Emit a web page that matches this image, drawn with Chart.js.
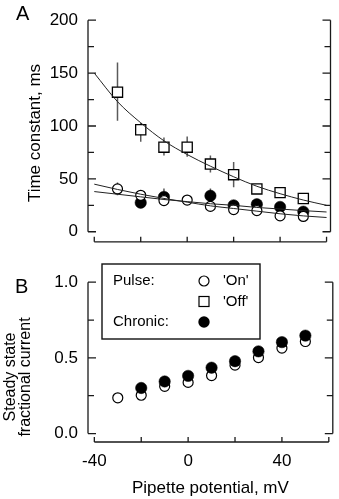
<!DOCTYPE html>
<html lang="en">
<head>
<meta charset="UTF-8">
<title>Time constants and steady state current</title>
<style>
  body { margin: 0; background: #fff; }
  #wrap { position: relative; width: 339px; height: 499px; background: #fff; }
  canvas { position: absolute; left: 0; }
  #tauChart { top: 0; }
  #fracChart { top: 262px; }
</style>
<script src="https://cdn.jsdelivr.net/npm/chart.js@4"></script>
</head>
<body>
<div id="wrap">
  <canvas id="tauChart" width="339" height="262"></canvas>
  <canvas id="fracChart" width="339" height="237"></canvas>
</div>
<script>
// pipette potentials, mV
const potentials = [-30, -20, -10, 0, 10, 20, 30, 40, 50];
const chronicPotentialsA = [-20, -10, 10, 20, 30, 40, 50];
const chronicPotentialsB = [-20, -10, 0, 10, 20, 30, 40, 50];

// panel A: time constants, ms
const onTau = [40.5, 34.5, 29.5, 30, 24, 21, 20, 15, 14.5];
const onTauErr = [6, 3, 3, 3, 3, 3, 3.5, 4, 4];
const offTau = [132, 96.5, 80, 80, 64, 54, 40.5, 37, 31.5];
const offTauErrUp = [28, 6.5, 9, 10, 8, 12, 4.5, 3, 2];
const offTauErrDown = [27, 11.5, 8, 9, 8, 12, 4.5, 3, 2];
const chronicTau = [27.5, 33, 34, 25, 26, 23.5, 19];
const chronicTauErr = [5, 8, 7, 3, 3, 3, 3];

// exponential fits through panel A
const fitPotentials = [-40, -30, -20, -10, 0, 10, 20, 30, 40, 50, 60];
const offFit = [150, 123, 103, 86, 73, 62, 52, 43, 36, 30, 25];
const onFit = [45, 40, 35.5, 31.5, 28, 24.5, 22, 19.5, 17, 15, 13.5];
const chronicFit = [38, 35.5, 33, 30.5, 28.5, 26.5, 25, 23, 21.5, 20, 18.7];

// panel B: steady state fractional current
const onFrac = [0.236, 0.253, 0.312, 0.338, 0.383, 0.452, 0.502, 0.565, 0.608];
const chronicFrac = [0.301, 0.344, 0.381, 0.435, 0.478, 0.543, 0.604, 0.647];

// axis ticks
const xTicks = [-40, -20, 0, 20, 40, 60];
const xLabels = [-40, 0, 40];
const tauTicks = [0, 50, 100, 150, 200];
const tauMinor = [25, 75, 125, 175];
const fracTicks = [0, 0.5, 1];
const fracMinor = [0.25, 0.75];

const FONT = "'Liberation Sans', Arial, Helvetica, sans-serif";
Chart.defaults.font.family = FONT;
Chart.defaults.color = '#000';

const pts = (xs, ys) => xs.map((x, i) => ({ x, y: ys[i] }));

// vertical error bars as broken line segments
function errorBars(xs, ys, up, down) {
  const out = [];
  xs.forEach((x, i) => {
    out.push({ x, y: ys[i] - down[i] }, { x, y: ys[i] + up[i] }, { x, y: null });
  });
  return out;
}

// open frame: offset left/right axes with inward ticks, bottom axis with upward ticks
function framePlugin(cfg) {
  return {
    id: 'frame',
    beforeDatasetsDraw(chart) {
      const { ctx, chartArea: a, scales: { x, y } } = chart;
      const yTop = y.getPixelForValue(cfg.yTicks[cfg.yTicks.length - 1]);
      const yBot = y.getPixelForValue(cfg.yTicks[0]);
      ctx.save();
      ctx.strokeStyle = '#1a1a1a';
      ctx.lineWidth = 1.3;
      ctx.beginPath();
      ctx.moveTo(a.left, yTop); ctx.lineTo(a.left, yBot);
      ctx.moveTo(a.right, yTop); ctx.lineTo(a.right, yBot);
      ctx.moveTo(x.getPixelForValue(xTicks[0]), a.bottom);
      ctx.lineTo(x.getPixelForValue(xTicks[xTicks.length - 1]), a.bottom);
      const yTick = (v, len) => {
        const p = y.getPixelForValue(v);
        ctx.moveTo(a.left, p); ctx.lineTo(a.left + len, p);
        ctx.moveTo(a.right, p); ctx.lineTo(a.right - len, p);
      };
      cfg.yTicks.forEach(v => yTick(v, 8));
      cfg.yMinor.forEach(v => yTick(v, 6));
      xTicks.forEach(v => {
        const p = x.getPixelForValue(v);
        ctx.moveTo(p, a.bottom); ctx.lineTo(p, a.bottom - 5);
      });
      ctx.stroke();
      ctx.restore();
    }
  };
}

// free text: panel letters and axis titles
function textPlugin(items) {
  return {
    id: 'notes',
    afterDraw(chart) {
      const ctx = chart.ctx;
      items.forEach(t => {
        ctx.save();
        ctx.font = t.font;
        ctx.fillStyle = '#000';
        ctx.textAlign = t.align;
        ctx.textBaseline = t.baseline;
        ctx.translate(t.x, t.y);
        if (t.rotate) ctx.rotate(t.rotate);
        ctx.fillText(t.text, 0, 0);
        ctx.restore();
      });
    }
  };
}

function yScale(min, max, ticks, fmt) {
  return {
    min, max,
    grid: { display: false, drawTicks: false },
    border: { display: false },
    ticks: { padding: 10, font: { size: 17 }, callback: fmt },
    afterBuildTicks: s => { s.ticks = ticks.map(v => ({ value: v })); },
    afterFit: s => { s.width = 88; }
  };
}

const common = {
  responsive: false,
  animation: false,
  events: [],
  plugins: { legend: { display: false }, tooltip: { enabled: false } }
};

const fitLine = (data) => ({
  data: pts(fitPotentials, data), showLine: true, pointRadius: 0,
  borderColor: '#222', borderWidth: 1, tension: 0.4, cubicInterpolationMode: 'monotone', order: 0
});
const errLine = (data) => ({
  data, showLine: true, pointRadius: 0, borderColor: '#5a5a5a', borderWidth: 1.5, spanGaps: false, order: 3
});

new Chart(document.getElementById('tauChart'), {
  type: 'scatter',
  data: {
    datasets: [
      fitLine(offFit),
      fitLine(onFit),
      fitLine(chronicFit),
      { label: "'On'", data: pts(potentials, onTau), pointStyle: 'circle', pointRadius: 5,
        pointBackgroundColor: '#fff', pointBorderColor: '#000', pointBorderWidth: 1.2, order: 1 },
      { label: "'Off'", data: pts(potentials, offTau), pointStyle: 'rect', pointRadius: 7.2,
        pointBackgroundColor: '#fff', pointBorderColor: '#000', pointBorderWidth: 1.3, order: 1 },
      { label: 'Chronic', data: pts(chronicPotentialsA, chronicTau), pointStyle: 'circle', pointRadius: 5.7,
        pointBackgroundColor: '#000', pointBorderColor: '#000', pointBorderWidth: 0.5, order: 2 },
      errLine(errorBars(potentials, offTau, offTauErrUp, offTauErrDown)),
      errLine(errorBars(potentials, onTau, onTauErr, onTauErr)),
      errLine(errorBars(chronicPotentialsA, chronicTau, chronicTauErr, chronicTauErr))
    ]
  },
  options: {
    ...common,
    layout: { padding: { top: 8, right: 5, left: 0, bottom: 0 } },
    scales: {
      x: {
        type: 'linear', min: -42.7, max: 61.7,
        grid: { display: false, drawTicks: false },
        border: { display: false },
        ticks: { display: false },
        afterFit: s => { s.height = 11; }
      },
      y: yScale(-9.48, 200, tauTicks)
    }
  },
  plugins: [
    framePlugin({ yTicks: tauTicks, yMinor: tauMinor }),
    textPlugin([
      { text: 'A', x: 16, y: 19.5, font: '20px ' + FONT, align: 'left', baseline: 'alphabetic' },
      { text: 'Time constant, ms', x: 35, y: 133, rotate: -Math.PI / 2,
        font: '17px ' + FONT, align: 'center', baseline: 'middle' }
    ])
  ]
});

// boxed key in panel B
const legendBox = {
  id: 'legendBox',
  afterDraw(chart) {
    const ctx = chart.ctx;
    ctx.save();
    ctx.fillStyle = '#fff';
    ctx.fillRect(102, 2, 158, 75);
    ctx.strokeStyle = '#111';
    ctx.lineWidth = 1.4;
    ctx.strokeRect(102, 2, 158, 75);
    ctx.fillStyle = '#000';
    ctx.font = '15px ' + FONT;
    ctx.textBaseline = 'middle';
    ctx.textAlign = 'left';
    ctx.fillText('Pulse:', 113, 19);
    ctx.fillText("'On'", 223, 19);
    ctx.fillText("'Off'", 223, 39.5);
    ctx.fillText('Chronic:', 113, 60);
    ctx.lineWidth = 1.2;
    ctx.strokeStyle = '#000';
    ctx.beginPath();
    ctx.arc(204, 19, 5, 0, Math.PI * 2);
    ctx.stroke();
    ctx.strokeRect(199, 34.5, 10, 10);
    ctx.beginPath();
    ctx.arc(204, 60, 5.7, 0, Math.PI * 2);
    ctx.fill();
    ctx.restore();
  }
};

new Chart(document.getElementById('fracChart'), {
  type: 'scatter',
  data: {
    datasets: [
      { label: 'Chronic', data: pts(chronicPotentialsB, chronicFrac), pointStyle: 'circle', pointRadius: 5.7,
        pointBackgroundColor: '#000', pointBorderColor: '#000', pointBorderWidth: 0.5, order: 0 },
      { label: "'On'", data: pts(potentials, onFrac), pointStyle: 'circle', pointRadius: 5,
        pointBackgroundColor: '#fff', pointBorderColor: '#000', pointBorderWidth: 1.2, order: 1 }
    ]
  },
  options: {
    ...common,
    layout: { padding: { top: 17, right: 5, left: 0, bottom: 0 } },
    scales: {
      x: {
        type: 'linear', min: -42.7, max: 61.7,
        grid: { display: false, drawTicks: false },
        border: { display: false },
        ticks: { padding: 9, font: { size: 17 } },
        afterBuildTicks: s => { s.ticks = xLabels.map(v => ({ value: v })); },
        title: { display: true, text: 'Pipette potential, mV', font: { size: 17 }, padding: { top: 0, bottom: 0 } },
        afterFit: s => { s.height = 57; }
      },
      y: yScale(-0.056, 1, fracTicks, v => v.toFixed(1))
    }
  },
  plugins: [
    framePlugin({ yTicks: fracTicks, yMinor: fracMinor }),
    legendBox,
    textPlugin([
      { text: 'B', x: 15, y: 31, font: '20px ' + FONT, align: 'left', baseline: 'alphabetic' },
      { text: 'Steady state', x: 10.3, y: 115, rotate: -Math.PI / 2,
        font: '16px ' + FONT, align: 'center', baseline: 'middle' },
      { text: 'fractional current', x: 25.3, y: 115, rotate: -Math.PI / 2,
        font: '16px ' + FONT, align: 'center', baseline: 'middle' }
    ])
  ]
});
</script>
</body>
</html>
